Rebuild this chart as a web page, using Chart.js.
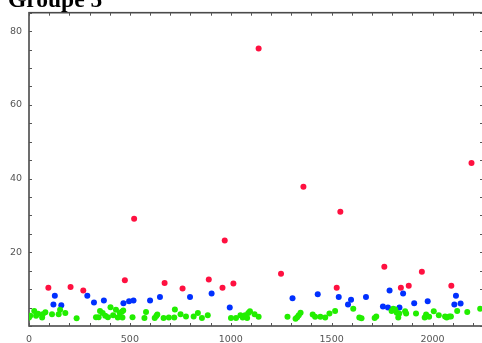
<!DOCTYPE html>
<html>
<head>
<meta charset="utf-8">
<script src="https://cdn.jsdelivr.net/npm/chart.js@4/dist/chart.umd.min.js"></script>
<style>
  html, body { margin: 0; padding: 0; overflow: hidden; background: #fff; }
  #wrap { position: relative; width: 486px; height: 343px; }
</style>
</head>
<body>
<div id="wrap"><canvas id="c" width="486" height="343"></canvas></div>
<script>
const TITLE = 'Groupe 5';
const xTicks = [0, 500, 1000, 1500, 2000];
const yTicks = [20, 40, 60, 80];

// lowest band (green)
const greenX = [0, 6, 26, 35, 45, 65, 68, 81, 114, 147, 154, 180, 236,
  332, 345, 352, 365, 378, 391, 404, 417, 431, 440, 450, 460, 463, 467, 513,
  572, 580, 623, 631, 636, 667, 693, 720, 723, 751, 778, 816, 837, 857, 886,
  1001, 1026, 1048, 1059, 1071, 1081, 1087, 1095, 1118, 1138,
  1281, 1321, 1329, 1337, 1346, 1406, 1418, 1444, 1468, 1489, 1517, 1607, 1637, 1648,
  1713, 1721, 1797, 1805, 1815, 1823, 1830, 1835, 1864, 1869, 1918, 1961, 1968, 1983,
  2006, 2031, 2062, 2070, 2083, 2091, 2122, 2172, 2236];
const greenY = [2.3, 2.8, 4.1, 2.8, 3.3, 2.3, 3.2, 3.7, 3.2, 3.2, 4.4, 3.5, 2.1,
  2.4, 2.4, 4.1, 3.5, 2.8, 2.4, 5.1, 2.9, 4.4, 2.3, 3.5, 3.9, 2.3, 4.2, 2.4,
  2.2, 3.8, 2.2, 2.7, 3.1, 2.2, 2.3, 2.3, 4.5, 3.2, 2.6, 2.6, 3.5, 2.2, 2.9,
  2.2, 2.2, 2.9, 2.3, 2.9, 2.2, 3.5, 4.0, 3.2, 2.5,
  2.5, 2.0, 2.4, 2.9, 3.6, 3.1, 2.5, 2.5, 2.3, 3.4, 4.1, 4.7, 2.3, 2.1,
  2.2, 2.6, 4.1, 4.7, 4.5, 3.6, 2.3, 3.4, 4.0, 3.4, 3.4, 2.3, 3.1, 2.5,
  4.0, 2.9, 2.6, 2.3, 2.6, 2.6, 4.1, 3.8, 4.7];

// middle band (blue)
const blueX = [121, 128, 160, 289, 322, 371, 468, 496, 518, 600, 649, 798, 905, 995,
  1306, 1431, 1535, 1581, 1596, 1670, 1754, 1779, 1787, 1836, 1854, 1909, 1976,
  2108, 2116, 2139];
const blueY = [5.8, 8.2, 5.6, 8.2, 6.4, 6.9, 6.2, 6.7, 6.9, 6.9, 7.9, 7.9, 8.8, 5.0,
  7.5, 8.6, 7.9, 5.8, 7.1, 7.9, 5.3, 5.0, 9.6, 5.0, 8.8, 6.2, 6.7,
  5.8, 8.2, 6.1];

// top band (red)
const redX = [96, 206, 269, 475, 521, 672, 761, 891, 959, 970, 1013, 1138, 1249,
  1360, 1525, 1543, 1761, 1843, 1882, 1947, 2093, 2193];
const redY = [10.4, 10.6, 9.6, 12.4, 29.1, 11.7, 10.2, 12.6, 10.4, 23.2, 11.5, 75.3, 14.2,
  37.8, 10.4, 31.0, 16.1, 10.4, 10.9, 14.7, 10.9, 44.2];

const toPoints = (xs, ys) => xs.map((x, i) => ({ x, y: ys[i] }));

// boxed frame with short inward ticks on all four sides
const framePlugin = {
  id: 'frame',
  beforeDatasetsDraw(chart) {
    const { ctx, chartArea: a, scales: { x, y } } = chart;
    ctx.save();
    ctx.strokeStyle = '#4a4a4a';
    ctx.lineWidth = 1.6;
    ctx.strokeRect(a.left, a.top, a.right - a.left, a.bottom - a.top);
    ctx.lineWidth = 1;
    ctx.strokeStyle = '#555';
    ctx.beginPath();
    for (let v = 0; v <= y.max; v += 5) {
      const py = Math.round(y.getPixelForValue(v)) + 0.5;
      ctx.moveTo(a.left, py); ctx.lineTo(a.left + 3, py);
      ctx.moveTo(a.right, py); ctx.lineTo(a.right - 3, py);
    }
    for (let v = 0; v <= x.max; v += 100) {
      const px = Math.round(x.getPixelForValue(v)) + 0.5;
      ctx.moveTo(px, a.bottom); ctx.lineTo(px, a.bottom - 3);
      ctx.moveTo(px, a.top); ctx.lineTo(px, a.top + 3);
    }
    ctx.stroke();
    ctx.restore();
  },
  afterDraw(chart) {
    const ctx = chart.ctx;
    ctx.save();
    ctx.fillStyle = '#000';
    ctx.font = 'bold 23.5px "Liberation Serif"';
    ctx.textBaseline = 'alphabetic';
    ctx.fillText(TITLE, 8, 6.5);
    ctx.restore();
  }
};

const tickFont = { family: 'DejaVu Sans', size: 9.5 };
const plain = v => String(v);

new Chart(document.getElementById('c'), {
  type: 'scatter',
  data: {
    datasets: [
      { data: toPoints(greenX, greenY), backgroundColor: '#22ee00' },
      { data: toPoints(blueX, blueY), backgroundColor: '#0030ff' },
      { data: toPoints(redX, redY), backgroundColor: '#ff1040' }
    ]
  },
  options: {
    responsive: false,
    animation: false,
    layout: { padding: { top: 11, right: 2, bottom: 0, left: 0 } },
    elements: { point: { radius: 3, borderWidth: 0, hoverRadius: 3 } },
    plugins: { legend: { display: false }, tooltip: { enabled: false }, title: { display: false } },
    scales: {
      x: {
        type: 'linear', min: 0, max: 2250,
        afterBuildTicks: s => { s.ticks = xTicks.map(v => ({ value: v })); },
        afterFit: s => { s.height = 17; },
        grid: { display: false, drawTicks: false },
        border: { display: false },
        ticks: { padding: 8, color: '#555', font: tickFont, maxRotation: 0, autoSkip: false, callback: plain }
      },
      y: {
        type: 'linear', min: 0, max: 85,
        afterBuildTicks: s => { s.ticks = yTicks.map(v => ({ value: v })); },
        afterFit: s => { s.width = 29; },
        grid: { display: false, drawTicks: false },
        border: { display: false },
        ticks: { padding: 7, color: '#555', font: tickFont, autoSkip: false, callback: plain }
      }
    }
  },
  plugins: [framePlugin]
});
</script>
</body>
</html>
